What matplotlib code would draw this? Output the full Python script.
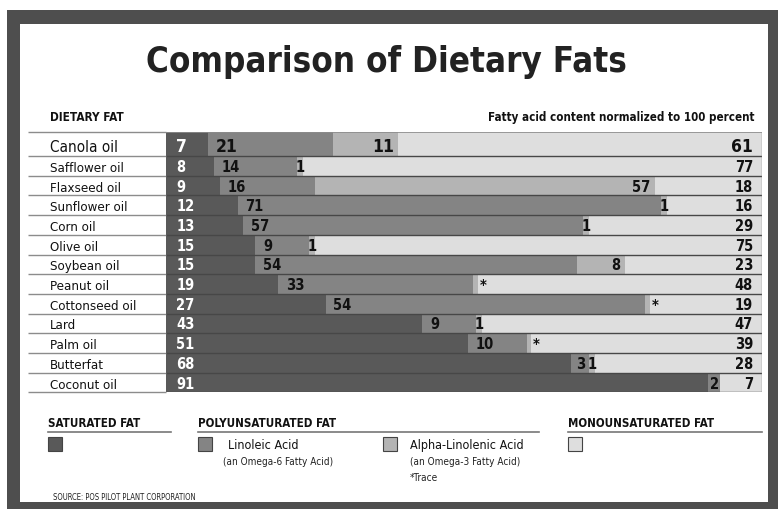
import matplotlib
matplotlib.use('Agg')

import matplotlib.pyplot as plt
import matplotlib.transforms as mtransforms
from matplotlib import font_manager
from matplotlib.patches import Rectangle
from matplotlib.lines import Line2D
import numpy as np

# Datos de la tabla (porcentaje de cada acido graso)
grasas = ['Canola oil', 'Safflower oil', 'Flaxseed oil', 'Sunflower oil', 'Corn oil',
          'Olive oil', 'Soybean oil', 'Peanut oil', 'Cottonseed oil', 'Lard',
          'Palm oil', 'Butterfat', 'Coconut oil']
saturada = [7, 8, 9, 12, 13, 15, 15, 19, 27, 43, 51, 68, 91]
linoleico = [21, 14, 16, 71, 57, 9, 54, 33, 54, 9, 10, 3, 2]
alfa_linolenico = [11, 1, 57, 1, 1, 1, 8, 0, 0, 1, 0, 1, 0]
traza = [False, False, False, False, False, False, False, True, True, False, True, False, False]
monoinsaturada = [61, 77, 18, 16, 29, 75, 23, 48, 19, 47, 39, 28, 7]

# Colores
C_SAT = '#595959'
C_LIN = '#848484'
C_ALA = '#b4b4b4'
C_MONO = '#dedede'
C_MARCO = '#4e4e4e'

# Fuente estrecha si existe
nombres = {f.name for f in font_manager.fontManager.ttflist}
if 'Liberation Sans Narrow' in nombres:
    FAMILIA, ESTIRA = 'Liberation Sans Narrow', 'normal'
elif any(f.name == 'DejaVu Sans' and 'ondensed' in str(f.stretch) for f in font_manager.fontManager.ttflist):
    FAMILIA, ESTIRA = 'DejaVu Sans', 'condensed'
else:
    FAMILIA, ESTIRA = 'DejaVu Sans', 'normal'
plt.rcParams['font.family'] = FAMILIA
plt.rcParams['font.stretch'] = ESTIRA

W, H = 778, 509


def fx(x):
    return x / W


def fy(y):
    return 1 - y / H


fig = plt.figure(figsize=(W / 100, H / 100), dpi=100)

# Marco oscuro
fig.add_artist(Rectangle((fx(7), 0), 1, fy(10), transform=fig.transFigure,
                         facecolor=C_MARCO, edgecolor='none', zorder=-2))
fig.add_artist(Rectangle((fx(20), fy(502)), fx(768) - fx(20), fy(24) - fy(502),
                         transform=fig.transFigure, facecolor='white', edgecolor='none', zorder=-1))

# Titulos
fig.text(fx(386), fy(72), 'Comparison of Dietary Fats', ha='center', va='baseline',
         fontsize=25, fontweight='bold', color='#222222')
fig.text(fx(50), fy(121), 'DIETARY FAT', ha='left', va='baseline', fontsize=8.5,
         fontweight='bold', color='#111111')
fig.text(fx(755), fy(121), 'Fatty acid content normalized to 100 percent', ha='right',
         va='baseline', fontsize=8.3, fontweight='bold', color='#111111')

# Ejes de barras
alturas = np.array([24] + [19.7] * 12)
limites = np.concatenate([[0], np.cumsum(alturas)])
centros = limites[:-1] + alturas / 2
total = limites[-1]

ax = fig.add_axes([fx(166), fy(132 + total), fx(762) - fx(166), total / H])
ax.set_xlim(0, 100)
ax.set_ylim(total, 0)
ax.axis('off')

n = len(grasas)
anchos = np.zeros((n, 4))
for i in range(n):
    a = 0.8 if traza[i] else alfa_linolenico[i]
    fila = np.array([saturada[i], linoleico[i], a, monoinsaturada[i]], dtype=float)
    anchos[i] = fila * 100 / fila.sum()
izq = np.cumsum(anchos, axis=1) - anchos

for j, col in enumerate([C_SAT, C_LIN, C_ALA, C_MONO]):
    ax.barh(centros, anchos[:, j], left=izq[:, j], height=alturas, color=col,
            edgecolor='none', zorder=1)

# Lineas de separacion
ax.hlines(limites, -23.2, 0, colors='#8c8c8c', lw=1, clip_on=False, zorder=2)
ax.hlines(limites[1:], 0, 100, colors='#474747', lw=1, zorder=2)
ax.hlines(0, 0, 100, colors='#8c8c8c', lw=1.2, zorder=2)
ax.vlines(100, 0, total, colors='#8c8c8c', lw=1, zorder=2)

mezcla = mtransforms.blended_transform_factory(fig.transFigure, ax.transData)

for i in range(n):
    grande = i == 0
    fs_num = 12.5 if grande else 10.5
    fs_lab = 11 if grande else 9.5
    yb = centros[i] + (8 if grande else 6)
    yl = centros[i] + (7.5 if grande else 6)
    ax.text(fx(50), yl, grasas[i], transform=mezcla, ha='left', va='baseline',
            fontsize=fs_lab, color='#111111')
    kw = dict(va='baseline', fontsize=fs_num, fontweight='bold', zorder=3)
    # saturada
    ax.text(1.7, yb, str(saturada[i]), ha='left', color='white', **kw)
    # linoleico
    w = anchos[i, 1]
    if w >= 5:
        ax.text(izq[i, 1] + 1.3, yb, str(linoleico[i]), ha='left', color='#111111', **kw)
    else:
        ax.text(izq[i, 1] + w / 2, yb, str(linoleico[i]), ha='center', color='#111111', **kw)
    # alfa-linolenico
    w = anchos[i, 2]
    fin = izq[i, 2] + w
    if traza[i]:
        ax.text(fin + 0.3, yb + 1, '*', ha='left', color='#111111', **kw)
    elif alfa_linolenico[i] >= 5:
        ax.text(fin - 0.7, yb, str(alfa_linolenico[i]), ha='right', color='#111111', **kw)
    elif alfa_linolenico[i] > 0:
        ax.text(izq[i, 2] + w / 2, yb, str(alfa_linolenico[i]), ha='center', color='#111111', **kw)
    # monoinsaturada
    ax.text(98.5, yb, str(monoinsaturada[i]), ha='right', color='#111111', **kw)

# Leyenda
encabezados = [('SATURATED FAT', 48, 171), ('POLYUNSATURATED FAT', 198, 539),
               ('MONOUNSATURATED FAT', 568, 762)]
for texto, x0, x1 in encabezados:
    fig.text(fx(x0), fy(427), texto, ha='left', va='baseline', fontsize=8.3,
             fontweight='bold', color='#111111')
    fig.add_artist(Line2D([fx(x0), fx(x1)], [fy(432), fy(432)], transform=fig.transFigure,
                          color='#777777', lw=1.2))

for x0, col in [(48, C_SAT), (198, C_LIN), (383, C_ALA), (568, C_MONO)]:
    fig.add_artist(Rectangle((fx(x0), fy(451)), 14 / W, 14 / H, transform=fig.transFigure,
                             facecolor=col, edgecolor='#444444', lw=0.8))

fig.text(fx(228), fy(449), 'Linoleic Acid', ha='left', va='baseline', fontsize=9, color='#111111')
fig.text(fx(223), fy(465), '(an Omega-6 Fatty Acid)', ha='left', va='baseline', fontsize=7.2,
         color='#222222')
fig.text(fx(410), fy(449), 'Alpha-Linolenic Acid', ha='left', va='baseline', fontsize=9,
         color='#111111')
fig.text(fx(410), fy(465), '(an Omega-3 Fatty Acid)', ha='left', va='baseline', fontsize=7.2,
         color='#222222')
fig.text(fx(410), fy(481), '*Trace', ha='left', va='baseline', fontsize=7.2, color='#222222')

fig.text(fx(53), fy(500), 'SOURCE: POS PILOT PLANT CORPORATION', ha='left', va='baseline',
         fontsize=5.5, color='#222222')

plt.savefig('out.png', dpi=100)
plt.close(fig)
